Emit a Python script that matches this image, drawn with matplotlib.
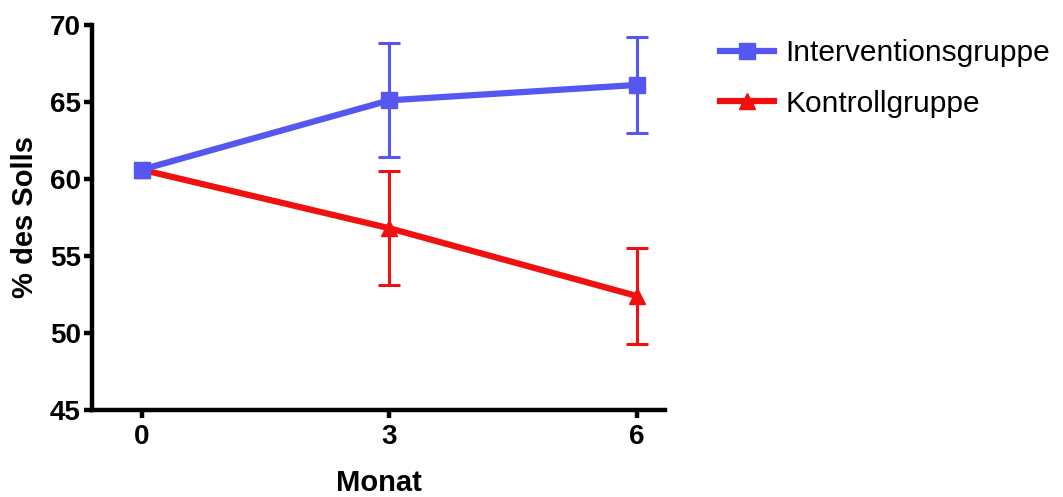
import matplotlib
matplotlib.use("Agg")
import matplotlib.pyplot as plt

plt.rcParams["font.family"] = ["Liberation Sans", "DejaVu Sans"]

months = [0, 3, 6]
interv_mean = [60.6, 65.1, 66.1]
interv_err = [3.7, 3.1]   # SD at months 3 and 6 (none shown at baseline)
kontr_mean = [60.6, 56.8, 52.4]
kontr_err = [3.7, 3.1]
yticks = [45, 50, 55, 60, 65, 70]

blue = "#5656f0"
red = "#f01010"

fig = plt.figure(figsize=(10.63, 4.97), dpi=100)
ax = fig.add_axes([0.0866, 0.175, 0.539, 0.775])

ax.plot(months, kontr_mean, color=red, lw=4.5, marker="^", ms=11, label="Kontrollgruppe", zorder=2)
ax.errorbar(months[1:], kontr_mean[1:], yerr=kontr_err, fmt="none", ecolor=red,
            elinewidth=2.2, capsize=8, capthick=2.2, zorder=2)
ax.plot(months, interv_mean, color=blue, lw=4.5, marker="s", ms=11, label="Interventionsgruppe", zorder=3)
ax.errorbar(months[1:], interv_mean[1:], yerr=interv_err, fmt="none", ecolor=blue,
            elinewidth=2.2, capsize=8, capthick=2.2, zorder=3)

ax.set_xlim(-0.6, 6.34)
ax.set_ylim(45, 70)
ax.set_xticks(months)
ax.set_yticks(yticks)
for s in ["top", "right"]:
    ax.spines[s].set_visible(False)
for s in ["left", "bottom"]:
    ax.spines[s].set_linewidth(3.2)
ax.tick_params(width=3.2, length=6, labelsize=20)
ax.tick_params(axis="y", pad=2)
ax.tick_params(axis="x", pad=4)
for lbl in ax.get_xticklabels() + ax.get_yticklabels():
    lbl.set_fontweight("bold")
ax.set_xlabel("Monat", fontsize=21, fontweight="bold", labelpad=14)
ax.set_ylabel("% des Solls", fontsize=21, fontweight="bold", labelpad=8)

handles, labels = ax.get_legend_handles_labels()
fig.legend(handles[::-1], labels[::-1], loc="upper left", bbox_to_anchor=(0.652, 0.975),
           frameon=False, fontsize=21.5, handlelength=1.8, handletextpad=0.4, labelspacing=0.75)

fig.savefig("out.png", dpi=100)
